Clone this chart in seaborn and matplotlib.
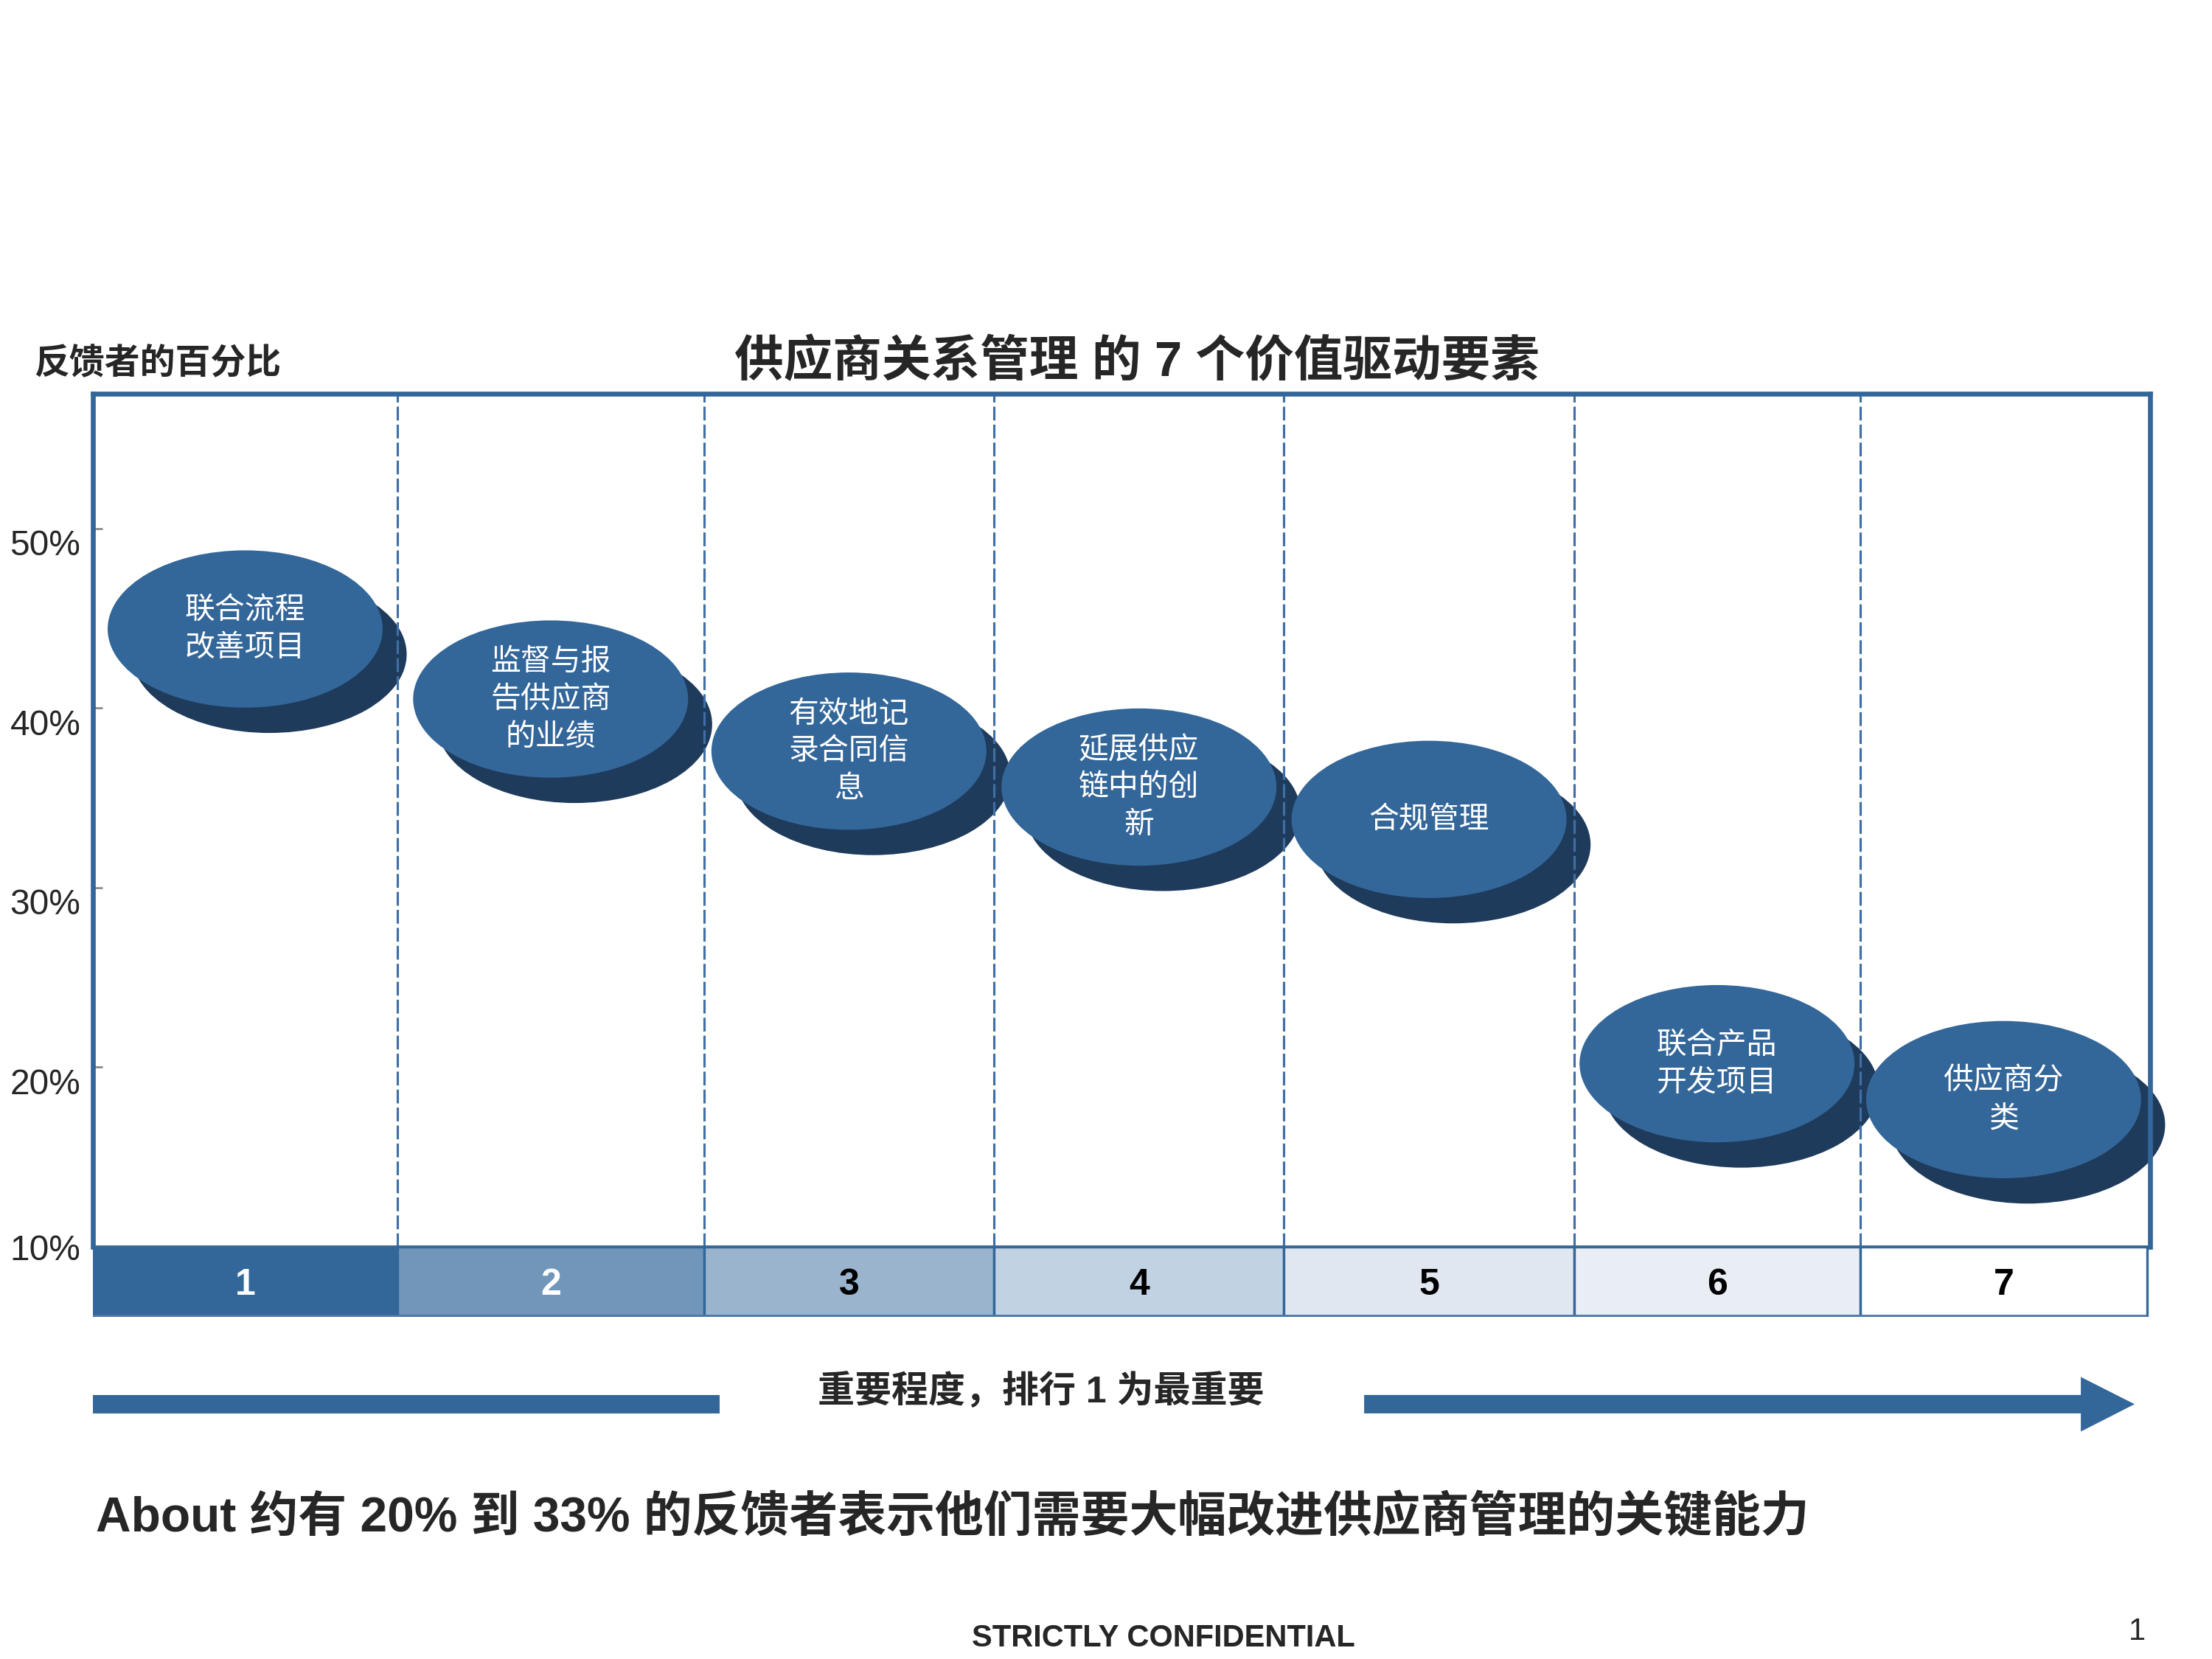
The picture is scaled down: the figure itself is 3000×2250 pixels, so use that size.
import numpy as np
import matplotlib
matplotlib.use("Agg")
import matplotlib.pyplot as plt
from matplotlib.path import Path
from matplotlib.markers import MarkerStyle
from matplotlib.patches import Rectangle, Polygon
from matplotlib.transforms import ScaledTranslation
import seaborn as sns

# data
ranks = [1, 2, 3, 4, 5, 6, 7]
drivers = ["联合流程\n改善项目", "监督与报\n告供应商\n的业绩", "有效地记\n录合同信\n息",
           "延展供应\n链中的创\n新", "合规管理", "联合产品\n开发项目", "供应商分\n类"]
pct = [44.4, 40.5, 37.6, 35.6, 33.8, 20.2, 18.2]
box_colors = ["#336699", "#7196BA", "#9AB4CD", "#C1D2E2", "#E0E7F0", "#E9EEF5", "#FFFFFF"]
num_colors = ["white", "white", "black", "black", "black", "black", "black"]
y_ticks = [10, 20, 30, 40, 50]
y_labels = ["10%", "20%", "30%", "40%", "50%"]

# layout
col_edges = np.array([0, 0.148, 0.297, 0.438, 0.579, 0.720, 0.859, 0.9986])
cx = (col_edges[:-1] + col_edges[1:]) / 2
widths = np.diff(col_edges)
blue = "#336699"
shadow = "#1F3B5C"

sns.set_theme(style="white")
plt.rcParams['font.family'] = ['Noto Sans CJK SC', 'DejaVu Sans']
mixed = ['Liberation Sans', 'Noto Sans CJK SC']

fig = plt.figure(figsize=(10, 7.5), dpi=300)
fig.patch.set_facecolor("white")

ax = fig.add_axes([0.042, 0.2484, 0.93, 0.5143])
ax.set_xlim(0, 1)
ax.set_ylim(10, 57.5)
ax.set_facecolor("white")

# ellipse marker
circ = Path.unit_circle()
ell = MarkerStyle(Path(circ.vertices * np.array([1.0, 0.572]), circ.codes))
size = 89.5 ** 2

# shadows, then dashed separators, then front ellipses
sns.scatterplot(x=cx + 0.0117, y=np.array(pct) - 1.41, marker=ell, s=size, color=shadow,
                edgecolor="none", linewidth=0, ax=ax, zorder=2, clip_on=False, legend=False)
ax.vlines(col_edges[1:-1], 10, 57.5, colors="#3F6FA6", linewidth=0.75,
          linestyles=(0, (6, 1.8)), zorder=2.5)
sns.scatterplot(x=cx, y=pct, marker=ell, s=size, color=blue,
                edgecolor="none", linewidth=0, ax=ax, zorder=3, clip_on=False, legend=False)
for x, y, lab in zip(cx, pct, drivers):
    ax.text(x, y, lab, ha="center", va="center", color="white", fontsize=9.8,
            linespacing=1.3, zorder=4)

for side in ["left", "top", "right"]:
    ax.spines[side].set_visible(True)
    ax.spines[side].set_color(blue)
    ax.spines[side].set_linewidth(1.6)
ax.spines["bottom"].set_color(blue)
ax.spines["bottom"].set_linewidth(0.9)

ax.set_xticks([])
ax.set_yticks(y_ticks, y_labels)
ax.tick_params(axis="y", direction="in", length=3, width=0.6, color="#7F7F7F",
               pad=4, labelsize=11.5, left=True)
for lab in ax.get_yticklabels():
    lab.set_fontfamily("Liberation Sans")
for lab in ax.get_yticklabels()[1:]:
    lab.set_transform(lab.get_transform() + ScaledTranslation(0, -4.5 / 72, fig.dpi_scale_trans))
ax.set_xlabel("")
ax.set_ylabel("")

# rank boxes
axb = fig.add_axes([0.042, 0.2062, 0.93, 0.0422])
axb.bar(cx, 1, width=widths, color=box_colors, edgecolor=blue, linewidth=0.8)
axb.hlines(0, col_edges[0], col_edges[-1], colors="#4A76A8", linewidth=1.6)
axb.set_xlim(0, 1)
axb.set_ylim(0, 1)
axb.axis("off")
for x, r, c in zip(cx, ranks, num_colors):
    axb.text(x, 0.45, str(r), ha="center", va="center", color=c, fontsize=12,
             fontweight="bold", family="Liberation Sans")

# titles
fig.text(0.514, 0.7815, "供应商关系管理 的 7 个价值驱动要素", ha="center", va="center",
         fontsize=16, fontweight="bold", family=mixed)
fig.text(0.0153, 0.781, "反馈者的百分比", ha="left", va="center", fontsize=11.5,
         fontweight="bold")

# importance arrow
fig.add_artist(Rectangle((0.042, 0.1536 - 0.00555), 0.2833, 0.0111, facecolor=blue,
                         edgecolor="none", transform=fig.transFigure))
arrow_pts = [(0.6167, 0.1536 - 0.00555), (0.9407, 0.1536 - 0.00555), (0.9407, 0.1371),
             (0.965, 0.1536), (0.9407, 0.1700), (0.9407, 0.1536 + 0.00555),
             (0.6167, 0.1536 + 0.00555)]
fig.add_artist(Polygon(arrow_pts, closed=True, facecolor=blue, edgecolor="none",
                       transform=fig.transFigure))
fig.text(0.4707, 0.1615, "重要程度，排行 1 为最重要", ha="center", va="center",
         fontsize=12, fontweight="bold", family=mixed)

fig.text(0.0433, 0.0845, "About 约有 20% 到 33% 的反馈者表示他们需要大幅改进供应商管理的关键能力",
         ha="left", va="center", fontsize=15.8, fontweight="bold", family=mixed)
fig.text(0.526, 0.0124, "STRICTLY CONFIDENTIAL", ha="center", va="center", fontsize=10,
         fontweight="bold", family="Liberation Sans")
fig.text(0.966, 0.0166, "1", ha="center", va="center", fontsize=10, family="Liberation Sans")

fig.savefig("out.png", dpi=300, facecolor="white")
